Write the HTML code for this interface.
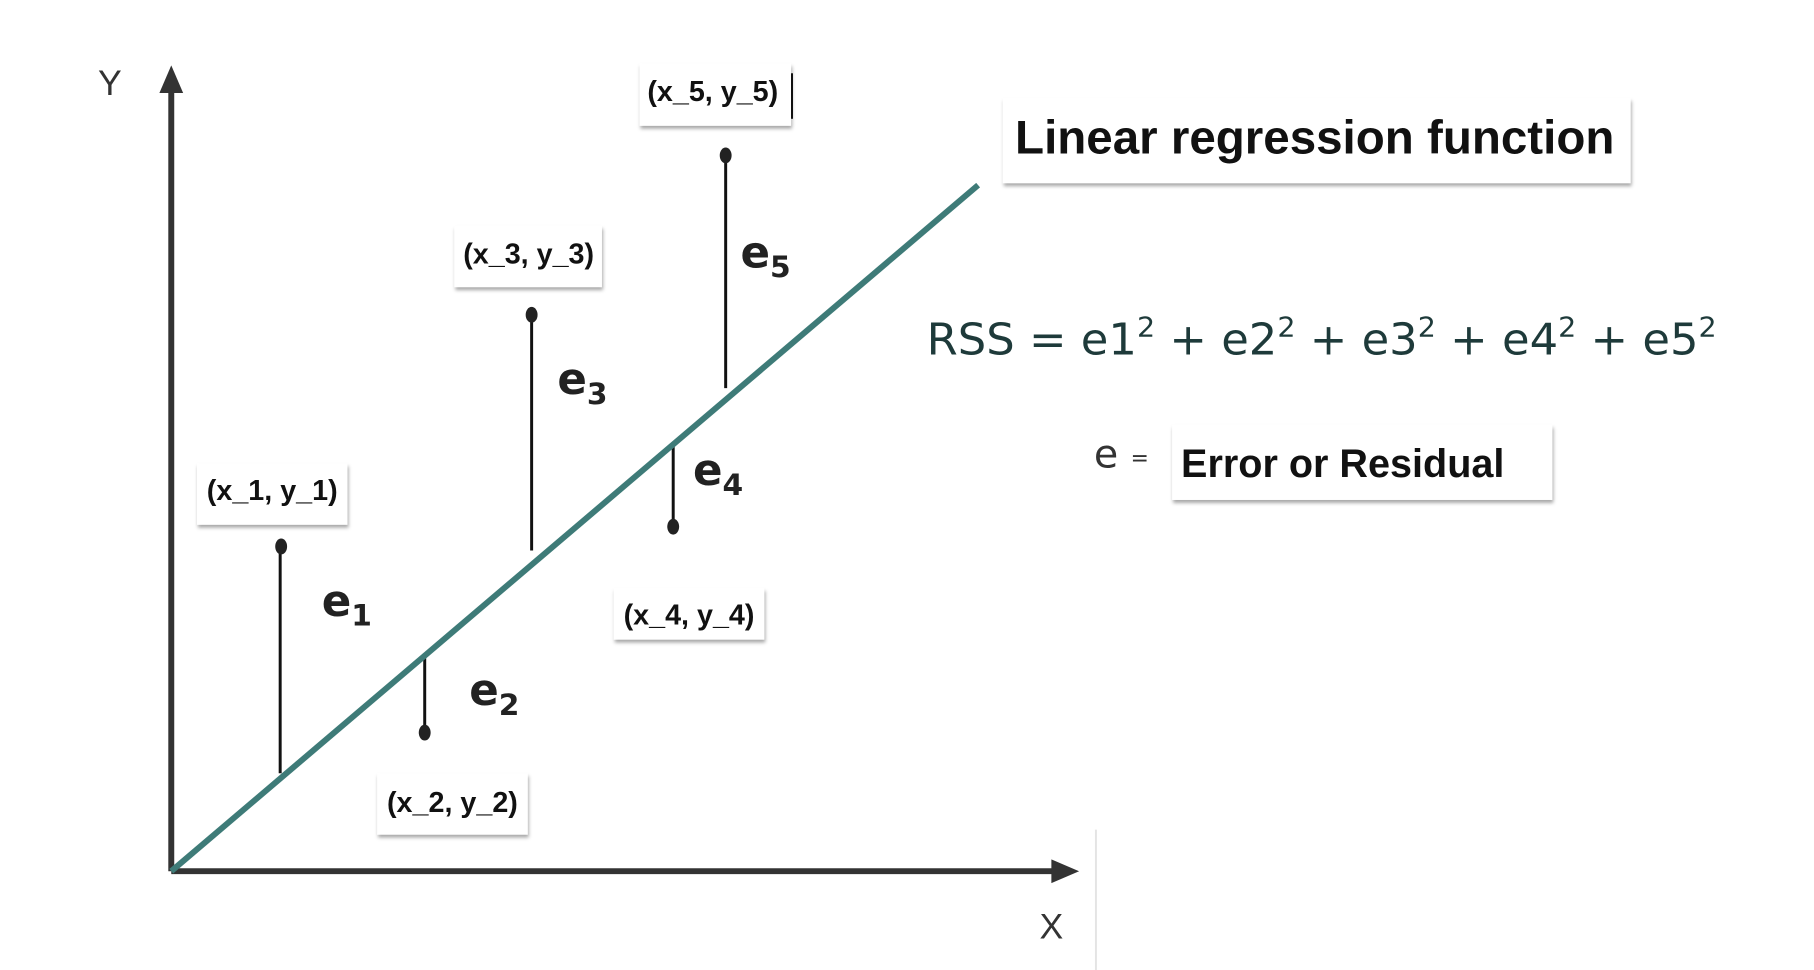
<!DOCTYPE html>
<html><head><meta charset="utf-8"><style>
html,body{margin:0;padding:0;background:#fff;}
svg{display:block;}
</style></head><body>
<svg width="1814" height="970" viewBox="0 0 1814 970" xmlns="http://www.w3.org/2000/svg">
<defs>
<filter id="sh" x="-10%" y="-10%" width="130%" height="140%">
<feDropShadow dx="1" dy="3" stdDeviation="2" flood-color="#000" flood-opacity="0.35"/>
</filter>
</defs>
<rect width="1814" height="970" fill="#fff"/>
<g transform="scale(0.99)">
<line x1="1107" y1="838" x2="1107" y2="990" stroke="#e4e4e4" stroke-width="2"/>
<line x1="173" y1="880" x2="173" y2="86" stroke="#333" stroke-width="6"/>
<polygon points="173,66 161,94 185,94" fill="#333"/>
<line x1="173" y1="880" x2="1070" y2="880" stroke="#333" stroke-width="6"/>
<polygon points="1090,880 1062,868 1062,892" fill="#333"/>
<text x="111" y="96" font-family="Liberation Sans, sans-serif" font-size="36" fill="#333" text-anchor="middle">Y</text>
<text x="1062" y="948" font-family="Liberation Sans, sans-serif" font-size="36" fill="#333" text-anchor="middle">X</text>
<g stroke="#111" stroke-width="3">
<line x1="283" y1="553" x2="283" y2="781"/>
<line x1="429" y1="662" x2="429" y2="738"/>
<line x1="537" y1="318" x2="537" y2="556"/>
<line x1="680" y1="448" x2="680" y2="530"/>
<line x1="733" y1="157" x2="733" y2="392"/>
</g>
<g fill="#222">
<ellipse cx="284" cy="552" rx="6" ry="8"/>
<ellipse cx="429" cy="740" rx="6" ry="8"/>
<ellipse cx="537" cy="318" rx="6" ry="8"/>
<ellipse cx="680" cy="532" rx="6" ry="8"/>
<ellipse cx="733" cy="157" rx="6" ry="8"/>
</g>
<line x1="173" y1="880" x2="988" y2="187" stroke="#3e7b78" stroke-width="6"/>
<g filter="url(#sh)" fill="#fff">
<rect x="199" y="468" width="152" height="62"/>
<rect x="381" y="781" width="152" height="62"/>
<rect x="459" y="228" width="149" height="62"/>
<rect x="620" y="594" width="152" height="52"/>
<rect x="646" y="64" width="153" height="63"/>
<rect x="1013" y="99" width="634" height="86"/>
<rect x="1184" y="429" width="384" height="76"/>
</g>
<g font-family="Liberation Sans, sans-serif" font-weight="bold" font-size="29" fill="#111" text-anchor="middle">
<text x="275" y="505">(x_1, y_1)</text>
<text x="457" y="820">(x_2, y_2)</text>
<text x="534" y="266">(x_3, y_3)</text>
<text x="696" y="631">(x_4, y_4)</text>
<text x="720" y="102">(x_5, y_5)</text>
</g>
<line x1="800" y1="74" x2="800" y2="120" stroke="#111" stroke-width="2"/>
<text x="1328" y="155" font-family="Liberation Sans, sans-serif" font-weight="bold" font-size="48" fill="#111" text-anchor="middle">Linear regression function</text>
<text x="1193" y="482" font-family="Liberation Sans, sans-serif" font-weight="bold" font-size="40" fill="#111">Error or Residual</text>
<g font-family="DejaVu Sans, sans-serif" font-weight="bold" font-size="44" fill="#222">
<text x="325" y="622">e<tspan font-size="30" dy="10">1</tspan></text>
<text x="474" y="712">e<tspan font-size="30" dy="10">2</tspan></text>
<text x="563" y="398">e<tspan font-size="30" dy="10">3</tspan></text>
<text x="700" y="490">e<tspan font-size="30" dy="10">4</tspan></text>
<text x="748" y="270">e<tspan font-size="30" dy="10">5</tspan></text>
</g>
<text x="936" y="358" font-family="DejaVu Sans, sans-serif" font-size="44" fill="#1e3a3a" textLength="798" lengthAdjust="spacingAndGlyphs">RSS = e1<tspan font-size="28" dy="-18">2</tspan><tspan dy="18"> + e2</tspan><tspan font-size="28" dy="-18">2</tspan><tspan dy="18"> + e3</tspan><tspan font-size="28" dy="-18">2</tspan><tspan dy="18"> + e4</tspan><tspan font-size="28" dy="-18">2</tspan><tspan dy="18"> + e5</tspan><tspan font-size="28" dy="-18">2</tspan></text>
<text x="1105" y="472" font-family="DejaVu Sans, sans-serif" font-size="40" fill="#333">e</text>
<text x="1142" y="470" font-family="DejaVu Sans, sans-serif" font-size="22" fill="#333">=</text>
</g>
</svg>
</body></html>
